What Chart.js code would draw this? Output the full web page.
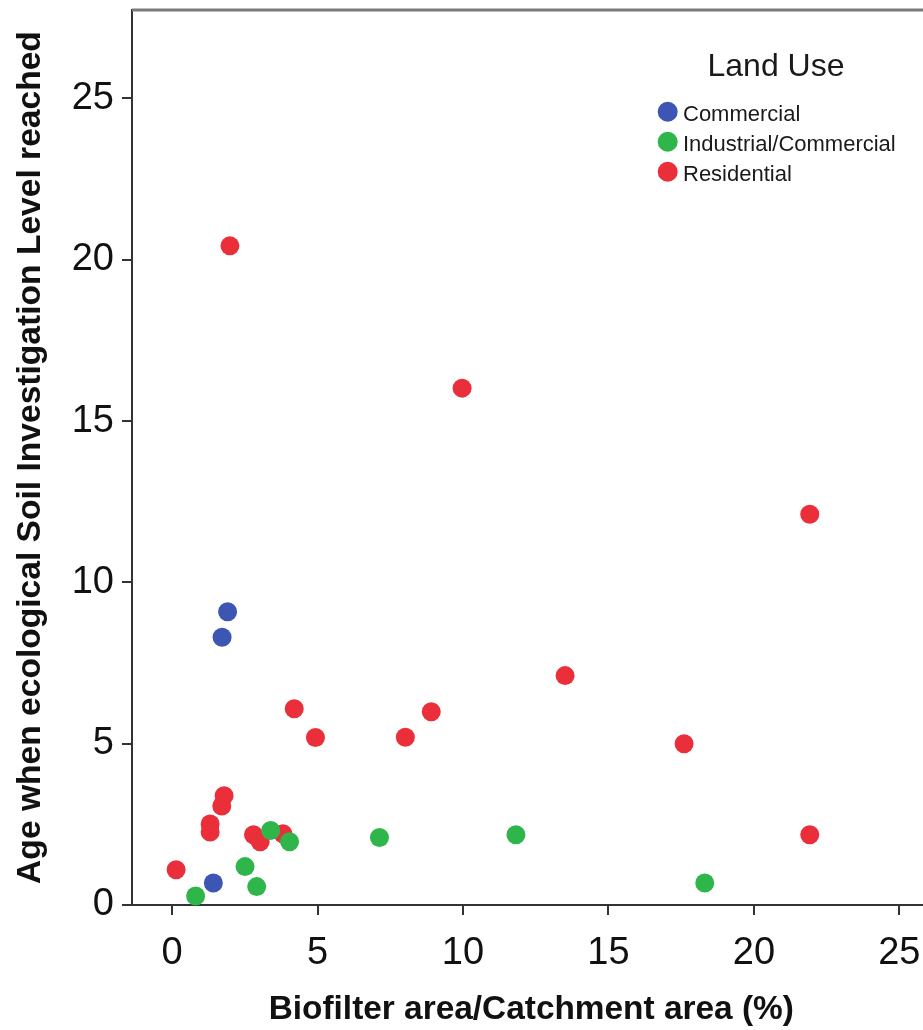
<!DOCTYPE html>
<html>
<head>
<meta charset="utf-8">
<script src="https://cdn.jsdelivr.net/npm/chart.js@4.4.1/dist/chart.umd.min.js"></script>
<style>
  html, body { margin: 0; padding: 0; background: #ffffff; overflow: hidden; }
  #wrap { width: 940px; height: 1030px; }
</style>
</head>
<body>
<div id="wrap"><canvas id="c" width="940" height="1030"></canvas></div>
<script>
// Biofilter sizing vs. age at which the ecological soil investigation level was reached
const landUses = ['Commercial', 'Industrial/Commercial', 'Residential'];
const landUseColors = ['#3d55b3', '#2fb64a', '#ea2e3a'];

// Biofilter area / catchment area (%)
const commercialX = [1.91, 1.72, 1.42];
const industrialX = [3.39, 4.04, 2.51, 2.91, 0.81, 7.13, 11.82, 18.31];
const residentialX = [1.99, 9.97, 21.92, 13.51, 17.60, 8.02, 8.91, 21.92,
                      4.20, 4.93, 1.79, 1.71, 1.31, 1.31, 2.80, 3.03, 3.81, 0.14];

// Age (years) when the level was reached
const commercialY = [9.09, 8.30, 0.68];
const industrialY = [2.31, 1.96, 1.19, 0.57, 0.28, 2.09, 2.18, 0.68];
const residentialY = [20.43, 16.02, 12.11, 7.11, 5.00, 5.20, 5.99, 2.18,
                      6.08, 5.19, 3.39, 3.07, 2.51, 2.26, 2.18, 1.96, 2.21, 1.09];

const xTicks = [0, 5, 10, 15, 20, 25];
const yTicks = [0, 5, 10, 15, 20, 25];

const FONT = '"Liberation Sans", Arial, Helvetica, sans-serif';

function pairs(xs, ys) { return xs.map((x, i) => ({ x: x, y: ys[i] })); }
const seriesX = [commercialX, industrialX, residentialX];
const seriesY = [commercialY, industrialY, residentialY];

const datasets = landUses.map((name, i) => ({
  label: name,
  data: pairs(seriesX[i], seriesY[i]),
  backgroundColor: landUseColors[i],
  borderColor: landUseColors[i],
  borderWidth: 0,
  pointRadius: 9.5,
  pointHoverRadius: 9.5,
  clip: false
}));

// Frame top edge and the "Land Use" key inside the plot
const framePlugin = {
  id: 'frameAndKey',
  afterDatasetsDraw(chart) {
    const ctx = chart.ctx;
    const a = chart.chartArea;
    ctx.save();
    ctx.strokeStyle = '#7a7a7a';
    ctx.lineWidth = 3;
    ctx.beginPath();
    ctx.moveTo(a.left, a.top);
    ctx.lineTo(chart.width, a.top);
    ctx.stroke();

    // key
    ctx.fillStyle = '#1a1a1a';
    ctx.textAlign = 'center';
    ctx.textBaseline = 'alphabetic';
    ctx.font = '32px ' + FONT;
    ctx.fillText('Land Use', 776, 76);

    ctx.font = '22px ' + FONT;
    ctx.textAlign = 'left';
    chart.data.datasets.forEach((ds, i) => {
      const cy = 111.7 + i * 30;
      ctx.fillStyle = ds.backgroundColor;
      ctx.beginPath();
      ctx.arc(667.7, cy, 10, 0, Math.PI * 2);
      ctx.fill();
      ctx.fillStyle = '#1a1a1a';
      ctx.fillText(ds.label, 683, cy + 9.5);
    });
    ctx.restore();
  }
};

new Chart(document.getElementById('c'), {
  type: 'scatter',
  data: { datasets: datasets },
  options: {
    responsive: false,
    animation: false,
    events: [],
    layout: { padding: { top: 10, left: 0, right: 0, bottom: 0 } },
    plugins: { legend: { display: false }, tooltip: { enabled: false } },
    scales: {
      x: {
        type: 'linear',
        min: -1.376,
        max: 26.07,
        afterFit(scale) { scale.height = 125; scale.paddingLeft = 0; scale.paddingRight = 0; },
        afterBuildTicks(scale) { scale.ticks = xTicks.map(v => ({ value: v })); },
        border: { display: true, color: '#333333', width: 2 },
        grid: { display: true, drawOnChartArea: false, drawTicks: true, tickLength: 10, color: '#333333', lineWidth: 2 },
        ticks: { color: '#111111', padding: 16, font: { family: FONT, size: 38 }, maxRotation: 0, autoSkip: false },
        title: { display: true, text: 'Biofilter area/Catchment area (%)', color: '#111111',
                 font: { family: FONT, size: 33.4, weight: 'bold', lineHeight: 1.2 }, padding: { top: 0, bottom: 0 } }
      },
      y: {
        type: 'linear',
        min: 0,
        max: 27.74,
        afterFit(scale) { scale.width = 132; scale.paddingTop = 0; scale.paddingBottom = 0; },
        afterBuildTicks(scale) { scale.ticks = yTicks.map(v => ({ value: v })); },
        border: { display: true, color: '#333333', width: 2 },
        grid: { display: true, drawOnChartArea: false, drawTicks: true, tickLength: 10, color: '#333333', lineWidth: 2 },
        ticks: { color: '#111111', padding: 8, font: { family: FONT, size: 38 }, autoSkip: false },
        title: { display: true, text: 'Age when ecological Soil Investigation Level reached', color: '#111111',
                 font: { family: FONT, size: 33.6, weight: 'bold', lineHeight: 1.2 }, padding: { top: 11, bottom: 0 } }
      }
    }
  },
  plugins: [framePlugin]
});
</script>
</body>
</html>
